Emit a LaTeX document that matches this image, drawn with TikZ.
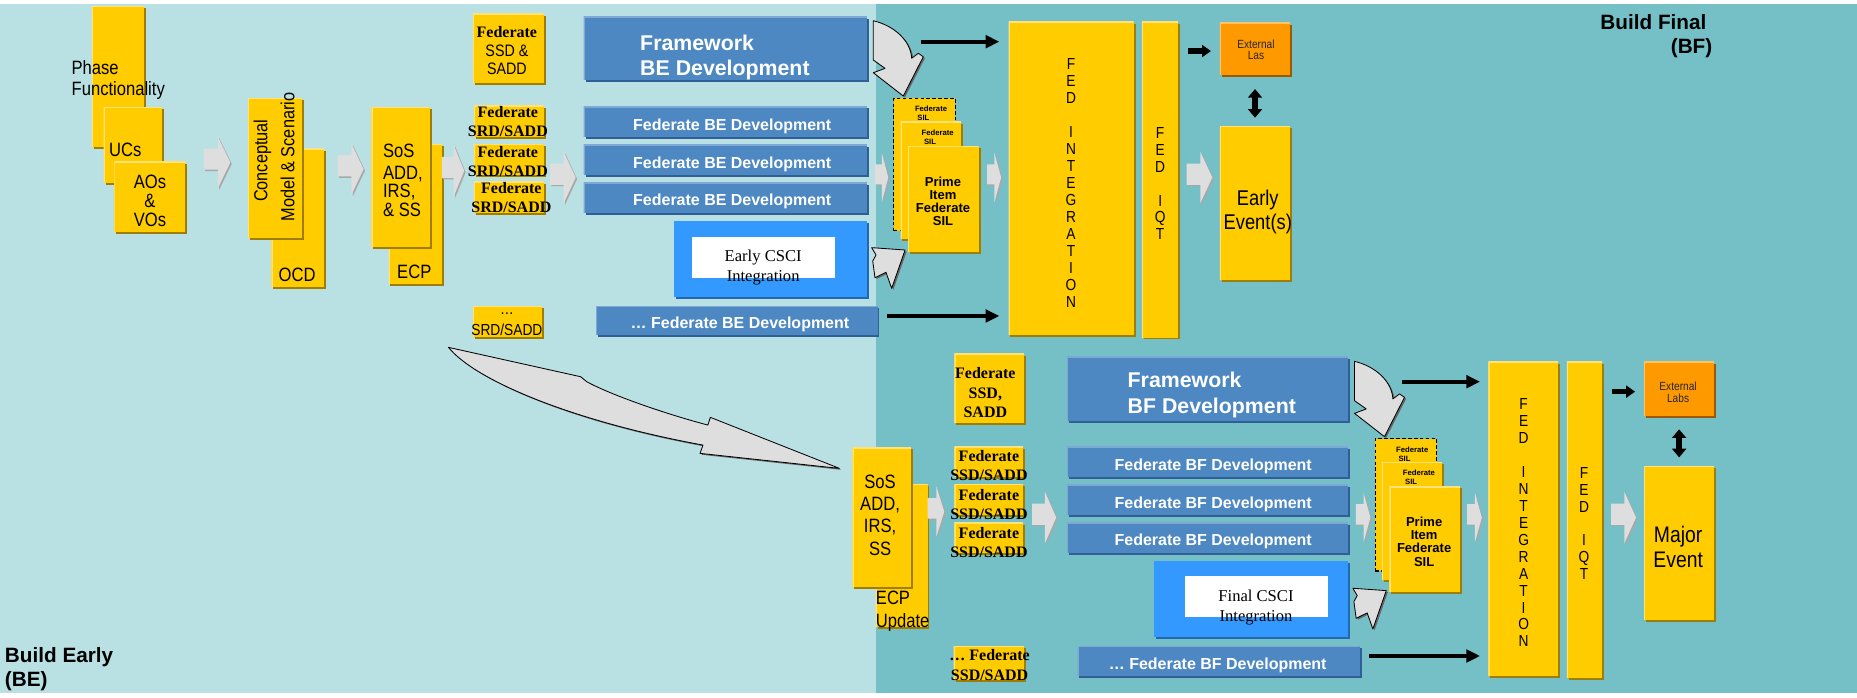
\documentclass[tikz,border=0pt]{standalone}
\usepackage{fontspec}
\setmainfont{Liberation Sans}
\newfontfamily\narrowsf[FakeStretch=0.86]{Liberation Sans}
\newfontfamily\serifrm{Liberation Serif}
\usetikzlibrary{arrows.meta,shadows}

\definecolor{bgleft}{HTML}{B9E0E3}
\definecolor{bgright}{HTML}{75BFC6}
\definecolor{gold}{HTML}{FFCC00}
\definecolor{goldlite}{HTML}{FFE27A}
\definecolor{golddark}{HTML}{9E7D00}
\definecolor{devblue}{HTML}{4E88C2}
\definecolor{devbluelite}{HTML}{7EA9D6}
\definecolor{devbluedark}{HTML}{2F5F94}
\definecolor{csciblue}{HTML}{3399FF}
\definecolor{cscidark}{HTML}{2168B0}
\definecolor{labsorange}{HTML}{FF9900}
\definecolor{labslite}{HTML}{FFC266}
\definecolor{labsdark}{HTML}{9C5A00}
\definecolor{arrowgrey}{HTML}{DEDEDE}
\definecolor{arrowshade}{HTML}{A8A8A8}

% block arrow between stages: left x, centre y, width, height
\newcommand\chevarrow[4]{%
  \fill[chevron, shift={(#1,#2)}] (0,{-0.27*#4}) -- ({0.53*#3},{-0.27*#4})
    -- ({0.53*#3},{-0.5*#4}) -- (#3,0) -- ({0.53*#3},{0.5*#4})
    -- ({0.53*#3},{0.14*#4}) -- (0,{0.14*#4}) -- cycle;}

\tikzset{
  boxwh/.style 2 args={minimum width=#1pt, minimum height=#2pt, anchor=north west,
    inner sep=0pt, outer sep=0pt},
  edgelite/.style={path picture={\draw[#1, line width=2pt]
    (path picture bounding box.south west) -- (path picture bounding box.north west)
    -- (path picture bounding box.north east);}},
  ybox/.style={fill=gold, edgelite=goldlite,
    drop shadow={shadow xshift=1.6pt, shadow yshift=-1.6pt, fill=golddark, opacity=1}},
  bbox/.style={fill=devblue, edgelite=devbluelite,
    drop shadow={shadow xshift=1.6pt, shadow yshift=-1.6pt, fill=devbluedark, opacity=1}},
  cbox/.style={fill=csciblue,
    drop shadow={shadow xshift=1.6pt, shadow yshift=-1.6pt, fill=cscidark, opacity=1}},
  obox/.style={fill=labsorange, edgelite=labslite,
    drop shadow={shadow xshift=1.6pt, shadow yshift=-1.6pt, fill=labsdark, opacity=1}},
  dashbox/.style={fill=gold, draw=black, line width=1.1pt, dash pattern=on 3pt off 2pt},
  nsf/.style 2 args={font=\narrowsf\fontsize{#1}{#2}\selectfont, align=center, inner sep=0pt},
  bsf/.style 2 args={font=\bfseries\fontsize{#1}{#2}\selectfont, align=center, inner sep=0pt},
  tsb/.style 2 args={font=\serifrm\bfseries\fontsize{#1}{#2}\selectfont, align=center, inner sep=0pt},
  tsr/.style 2 args={font=\serifrm\fontsize{#1}{#2}\selectfont, align=center, inner sep=0pt},
  tinysil/.style={font=\bfseries\fontsize{6.5}{7.6}\selectfont, align=left, anchor=north west, inner sep=0pt},
  chevron/.style={fill=arrowgrey,
    drop shadow={shadow xshift=1.2pt, shadow yshift=-1.2pt, fill=arrowshade, opacity=1}},
  bendbody/.style={fill=arrowgrey, draw=black, line width=0.7pt, line join=round,
    drop shadow={shadow xshift=1.4pt, shadow yshift=-1.2pt, fill=black!60, opacity=1}},
  flowarrow/.style={draw=black, line width=3.4pt, -{Triangle[length=11.5pt,width=10.5pt]}},
  shortarrow/.style={draw=black, line width=4.5pt, -{Triangle[length=7.5pt,width=10pt]}},
  twoway/.style={draw=black, line width=4.5pt,
    {Triangle[length=7.3pt,width=11.8pt]}-{Triangle[length=7.3pt,width=11.8pt]}},
  % bent arrow from the framework track down into the SIL stack
  bendarrow/.pic={
    \path[bendbody] (737.4,17.5) -- (737.4,50.7) -- (747.3,57.7) -- (737.4,61.4)
      -- (762.7,81.1) -- (779.6,47.9) -- (775.4,45) -- (769.8,49.2)
      .. controls (769,35) and (756,22) .. cycle;},
  % short arrow from CSCI integration up into the SIL stack
  hookarrow/.pic={
    \path[bendbody] (736,209.1) -- (739.7,215.3) -- (736.9,220.4) -- (738.8,234.5)
      -- (748.1,229.9) -- (752.9,243.5) -- (764.2,211.1) -- cycle;}
}

\begin{document}
\begin{tikzpicture}[x=1pt, y=-1pt]

% ---------- background panels
\fill[white] (0,0) rectangle (1568,589);
\fill[bgleft] (0,3.5) rectangle (739.5,585.5);
\fill[bgright] (739.5,3.5) rectangle (1568,585.5);
\useasboundingbox (0,0) rectangle (1568,589);

% ---------- transition arrow from Build Early to Build Final
\path[bendbody] (378.7,293.3) -- (490.3,318.1) -- (495.4,322.3)
  .. controls (515,333) and (560,349) .. (597.7,358.9) -- (599.8,352.4)
  -- (708.8,395.5) -- (591.1,382.8) -- (593.6,375.8)
  .. controls (480,355) and (400,320) .. cycle;

% ---------- requirements chain
\node[ybox, boxwh={44}{118.8}] (phase) at (77.5,5.1) {};
\node[ybox, boxwh={49.7}{64.2}] (ucs) at (87.5,90.6) {};
\node[ybox, boxwh={59.7}{59.1}] (aovo) at (96.5,136.5) {};
\node[nsf={16.3}{18.3}, anchor=west, align=left] (t-phase) at (60.3,67.6) {Phase\\Functionality};
\node[nsf={16.3}{18}] (t-ucs) at (105.8,126.7) {UCs};
\node[nsf={16.3}{16}] (t-aovo) at (126.6,169.8) {AOs\\\&\\VOs};

\chevarrow{171.9}{137.2}{22.6}{43.6}

\node[ybox, boxwh={44.6}{116.8}] (ocd) at (229.2,125.8) {};
\node[ybox, boxwh={45.2}{118.2}] (cmodel) at (209.6,83) {};
\node[nsf={16}{18}, rotate=90] (t-concept) at (221.6,135.7) {Conceptual};
\node[nsf={16}{18}, rotate=90] (t-model) at (242.8,132.6) {Model \& Scenario};
\node[nsf={16.3}{18}] (t-ocd) at (250.9,232.2) {OCD};

\chevarrow{285}{142.8}{22}{43.6}

\node[ybox, boxwh={44.9}{118.2}] (ecp) at (328.1,121.6) {};
\node[ybox, boxwh={49.2}{118.2}] (sos) at (313.6,90.6) {};
\node[nsf={16.3}{15.5}, anchor=west, align=left] (t-sos) at (323.3,152) {SoS\\[3.3pt]ADD,\\IRS,\\\& SS};
\node[nsf={16.3}{18}] (t-ecp) at (349.8,229.4) {ECP};

\chevarrow{373}{144.2}{19}{43.6}

% ---------- federate documents (BE)
\node[ybox, boxwh={59.7}{58}] (fedssd) at (399.3,11.8) {};
\node[nsf={14}{16}] (t-fedssd) at (428,42.7) {{\serifrm\bfseries\fontsize{13.5}{16}\selectfont Federate}\\SSD \&\\SADD};
\node[ybox, boxwh={58.9}{26.5}] (srd1) at (400.1,89.5) {};
\node[ybox, boxwh={58.9}{26.2}] (srd2) at (400.1,121.6) {};
\node[ybox, boxwh={58.9}{26.7}] (srd3) at (400.1,153.4) {};
\node[tsb={13.5}{16.3}] (t-srd1) at (428.8,102.5) {Federate\\SRD/SADD};
\node[tsb={13.5}{16.3}] (t-srd2) at (428.8,136.2) {Federate\\SRD/SADD};
\node[tsb={13.5}{16.3}] (t-srd3) at (431.8,166.7) {Federate\\SRD/SADD};
\node[ybox, boxwh={58.2}{25.9}] (dotsrd) at (399.3,258.4) {};
\node[nsf={13.5}{14}] (t-dots) at (428,265) {…};
\node[nsf={13.5}{14}] (t-dotsrd) at (428,278.6) {SRD/SADD};

\chevarrow{464.4}{149.9}{21.7}{43.7}

% ---------- development tracks (BE)
\node[bbox, boxwh={239.1}{53.5}] (fwbe) at (492.8,14.1) {};
\node[bsf={18}{21.7}, text=white, anchor=west, align=left] (t-fwbe) at (540.4,48.5) {Framework\\BE Development};
\node[bbox, boxwh={239.1}{26}] (dev1) at (492.8,90) {};
\node[bbox, boxwh={239.1}{25.4}] (dev2) at (492.8,122.4) {};
\node[bbox, boxwh={239.1}{25.9}] (dev3) at (492.8,154.2) {};
\node[bsf={13.5}{16}, text=white] (t-dev1) at (618.3,107) {Federate BE Development};
\node[bsf={13.5}{16}, text=white] (t-dev2) at (618.3,138.5) {Federate BE Development};
\node[bsf={13.5}{16}, text=white] (t-dev3) at (618.3,170) {Federate BE Development};
\node[cbox, boxwh={162.9}{64.7}] (csci) at (569,186.3) {};
\node[fill=white, boxwh={120.6}{34.6}] (cscilabel) at (584.1,200.4) {};
\node[tsr={14}{16.3}] (t-csci) at (644.4,226) {Early CSCI\\Integration};
\node[bbox, boxwh={237.7}{24.5}] (dotdev) at (503.3,258.4) {};
\node[bsf={13.5}{16}, text=white] (t-dotdev) at (624.8,274) {… Federate BE Development};

% ---------- SIL stack (BE)
\chevarrow{738.7}{149.9}{11.3}{40.8}
\node[dashbox, boxwh={51.9}{111.8}] (sila) at (754.7,83) {};
\node[tinysil] (t-sila) at (772.4,89.5) {Federate\\\hspace*{2pt}SIL};
\node[ybox, boxwh={51.2}{99.4}] (silb) at (760.4,102.7) {};
\node[tinysil] (t-silb) at (778,109.5) {Federate\\\hspace*{2pt}SIL};
\node[ybox, boxwh={59.6}{89.2}] (silc) at (766.8,123.3) {};
\node[bsf={11}{11}] (t-silc) at (796.2,170) {Prime\\Item\\Federate\\SIL};
\pic at (0,0) {bendarrow};
\pic at (0,0) {hookarrow};
\chevarrow{833.4}{149.9}{11.9}{41.3}

% ---------- integration, test and event (BE)
\node[ybox, boxwh={105.6}{264.6}] (fedint1) at (851.6,18.3) {};
\node[nsf={13.5}{14.3}] (t-fedint1) at (904.3,154.5) {F\\E\\D\\[14.3pt]I\\N\\T\\E\\G\\R\\A\\T\\I\\O\\N};
\node[ybox, boxwh={30.8}{266.7}] (fediqt1) at (964.2,18.3) {};
\node[nsf={13.5}{14.3}] (t-fediqt1) at (979.6,155) {F\\E\\D\\[14.3pt]I\\Q\\T};
\node[obox, boxwh={59.4}{44.2}] (ext1) at (1030,19.1) {};
\node[nsf={10}{9.3}, text=black!85] (t-ext1) at (1060.5,42) {External\\Las};
\node[ybox, boxwh={59.4}{130}] (event1) at (1030,106.4) {};
\node[nsf={18}{19.7}] (t-event1) at (1062,179) {Early\\Event(s)};
\chevarrow{1002}{149.9}{21.6}{43.7}

\coordinate (fw1out) at (777.4,35.2);
\coordinate (dd1out) at (749.1,266.8);
\coordinate (iq1out) at (1003.5,43.1);
\draw[flowarrow, shorten >=7.8pt] (fw1out) -- (fw1out -| fedint1.west);
\draw[flowarrow, shorten >=7.8pt] (dd1out) -- (dd1out -| fedint1.west);
\draw[shortarrow, shorten >=7.5pt] (iq1out) -- (iq1out -| ext1.west);
\draw[twoway, shorten <=11.9pt, shorten >=7pt] (ext1.south) -- (event1.north);

% ---------- Build Final
\node[ybox, boxwh={43.8}{120.4}] (ecp2) at (739.4,408.7) {};
\node[ybox, boxwh={49.8}{118.2}] (sos2) at (719.8,377.7) {};
\node[nsf={16.3}{18.7}] (t-sos2) at (743.1,435) {SoS\\ADD,\\IRS,\\SS};
\node[nsf={16.3}{19.8}, anchor=west, align=left] (t-ecp2) at (739.4,516) {ECP\\Update};
\chevarrow{783.2}{432}{14.1}{42.3}

\node[ybox, boxwh={58.8}{58}] (fedssd2) at (805.8,298.9) {};
\node[tsb={13.5}{16.2}] (t-fedssd2) at (832,331.5) {Federate\\SSD,\\SADD};
\node[ybox, boxwh={58}{25.8}] (ssd1) at (805.8,377.2) {};
\node[ybox, boxwh={58}{26.2}] (ssd2) at (805.8,408.7) {};
\node[ybox, boxwh={58}{25.9}] (ssd3) at (805.8,441.3) {};
\node[tsb={13.5}{16}] (t-ssd1) at (835,393) {Federate\\SSD/SADD};
\node[tsb={13.5}{16}] (t-ssd2) at (835,426) {Federate\\SSD/SADD};
\node[tsb={13.5}{16}] (t-ssd3) at (835,458) {Federate\\SSD/SADD};
\node[ybox, boxwh={59.4}{28.7}] (dotssd) at (805.2,545.5) {};
\node[tsb={13.5}{17}] (t-dotssd) at (835.6,561.5) {… Federate\\SSD/SADD};
\chevarrow{871.5}{437}{20.3}{43.6}

\node[bbox, boxwh={237.4}{54}] (fwbf) at (900.8,301.2) {};
\node[bsf={18}{21.4}, text=white, anchor=west, align=left] (t-fwbf) at (952,333.5) {Framework\\BF Development};
\node[bbox, boxwh={237.4}{25.8}] (bdev1) at (900.8,377.2) {};
\node[bbox, boxwh={237.4}{25.4}] (bdev2) at (900.8,409.5) {};
\node[bbox, boxwh={237.4}{25.4}] (bdev3) at (900.8,441.3) {};
\node[bsf={13.5}{16}, text=white] (t-bdev1) at (1024.4,394.2) {Federate BF Development};
\node[bsf={13.5}{16}, text=white] (t-bdev2) at (1024.4,426) {Federate BF Development};
\node[bsf={13.5}{16}, text=white] (t-bdev3) at (1024.4,457.5) {Federate BF Development};
\node[cbox, boxwh={163.5}{64.8}] (final) at (974.7,473.4) {};
\node[fill=white, boxwh={120.7}{34.9}] (finallabel) at (1000.2,486.4) {};
\node[tsr={14}{16.8}] (t-final) at (1060.5,512.8) {Final CSCI\\Integration};
\node[bbox, boxwh={238.2}{25.3}] (dotbdev) at (909.8,545.5) {};
\node[bsf={13.5}{16}, text=white] (t-dotbdev) at (1028.2,561.7) {… Federate BF Development};

\chevarrow{1144.8}{437}{12.3}{42}
\node[dashbox, boxwh={51.9}{111.8}] (sila2) at (1161.3,370.3) {};
\node[tinysil] (t-sila2) at (1178.7,376.8) {Federate\\\hspace*{2pt}SIL};
\node[ybox, boxwh={51.2}{99.4}] (silb2) at (1166.7,390.2) {};
\node[tinysil] (t-silb2) at (1184.3,397) {Federate\\\hspace*{2pt}SIL};
\node[ybox, boxwh={59.6}{89.2}] (silc2) at (1173.1,410.8) {};
\node[bsf={11}{11}] (t-silc2) at (1202.5,457.5) {Prime\\Item\\Federate\\SIL};
\pic at (406.3,287.6) {bendarrow};
\pic at (406.3,287.6) {hookarrow};
\chevarrow{1238.7}{437}{12.5}{42}

\node[ybox, boxwh={59}{265.4}] (fedint2) at (1256.8,305.4) {};
\node[nsf={13.5}{14.3}] (t-fedint2) at (1286.5,441.5) {F\\E\\D\\[14.3pt]I\\N\\T\\E\\G\\R\\A\\T\\I\\O\\N};
\node[ybox, boxwh={29.8}{267.4}] (fediqt2) at (1323,305.4) {};
\node[nsf={13.5}{14.3}] (t-fediqt2) at (1337.5,442) {F\\E\\D\\[14.3pt]I\\Q\\T};
\node[obox, boxwh={59.2}{45.9}] (ext2) at (1388.2,305.4) {};
\node[nsf={10}{10.4}, text=black!85] (t-ext2) at (1416.9,331) {External\\Labs};
\node[ybox, boxwh={59.2}{130}] (event2) at (1388.2,393.5) {};
\node[nsf={19}{21}] (t-event2) at (1417,461.5) {Major\\Event};
\chevarrow{1360.3}{437}{21.1}{43.6}

\coordinate (fw2out) at (1183.8,322.3);
\coordinate (dd2out) at (1156,553.9);
\coordinate (iq2out) at (1361.1,330.7);
\draw[flowarrow, shorten >=7.1pt] (fw2out) -- (fw2out -| fedint2.west);
\draw[flowarrow, shorten >=7.1pt] (dd2out) -- (dd2out -| fedint2.west);
\draw[shortarrow, shorten >=7.6pt] (iq2out) -- (iq2out -| ext2.west);
\draw[twoway, shorten <=11.2pt, shorten >=7.3pt] (ext2.south) -- (event2.north);

% ---------- phase labels
\node[bsf={17.5}{20.5}, anchor=north east, align=right] (t-bf) at (1446,12) {Build Final\hspace*{5pt}\\(BF)};
\node[bsf={17.5}{20}, anchor=south west, align=left] (t-be) at (4,583.5) {Build Early\\(BE)};

\end{tikzpicture}
\end{document}
